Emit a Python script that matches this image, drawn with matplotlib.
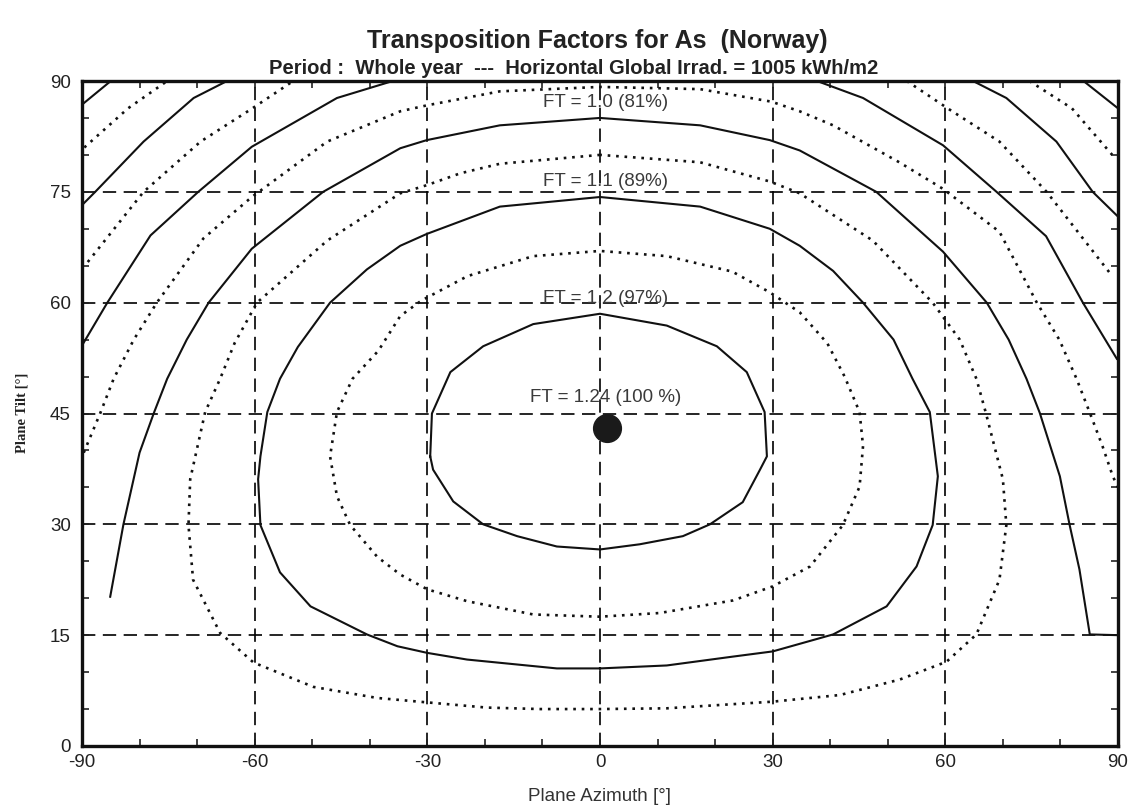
import matplotlib
matplotlib.use("Agg")
import matplotlib.pyplot as plt
from matplotlib import font_manager as fm

# --- contour lines (plane azimuth [deg], plane tilt [deg]) ---
# solid = FT 1.2, 1.1, 1.0, 0.9, 0.8, 0.7 ; dotted = the half steps in between
AZ_120 = [-29.5, -29.2, -26, -20.3, -11.6, 0, 11.6, 20.3, 25.5, 28.6, 29, 27.8, 24.8,
          19.1, 14.4, 6.9, 0, -7.5, -14.4, -20.3, -25.5, -29, -29.5]
TILT_120 = [39.2, 45, 50.6, 54.1, 57.1, 58.5, 56.9, 54.1, 50.6, 45.2, 39.2, 37.4, 33,
            30, 28.4, 27.3, 26.6, 27, 28.4, 30, 33.1, 37.4, 39.2]

AZ_115 = [0, -11.6, -23.1, -30, -34.7, -38.7, -43.4, -45.7, -46.9, -45.7, -43, -38.5,
          -34.7, -31, -23, -11.6, 0, 11.6, 23, 29.5, 34.7, 39.5, 42.5, 45.1, 45.7, 45.1,
          42.2, 36.5, 30, 23.1, 10.4, 0]
TILT_115 = [17.5, 17.8, 19.6, 21.2, 23.2, 25.6, 29.9, 33.8, 39.2, 45.2, 49.7, 53.5,
            58.2, 60.3, 63.6, 66.3, 67, 66.3, 64.2, 61.4, 58.7, 54.5, 50, 45.2, 40.6, 35.1,
            29.9, 24.3, 21.6, 19.7, 18, 17.5]

AZ_110 = [0, -7.5, -23.1, -30, -35.2, -40.5, -50.3, -55.6, -59, -59.4, -59, -57.8, -55.6,
          -52.5, -46.9, -40.5, -34.7, -30.1, -17.4, 0, 17.4, 29.5, 34.7, 40.5, 45.7, 51,
          54.3, 57.3, 58.7, 57.8, 55, 49.8, 40.5, 30, 23.1, 11.6, 0]
TILT_110 = [10.5, 10.5, 11.7, 12.6, 13.5, 15.1, 18.9, 23.5, 29.9, 36.1, 39.2, 45.2, 49.7,
            54, 60, 64.5, 67.7, 69.3, 73, 74.3, 73, 70, 67.7, 64.3, 60, 55,
            49.7, 45.2, 36.5, 29.9, 24.3, 18.9, 15.1, 12.8, 12.1, 10.9, 10.5]

AZ_105 = [0, -17.4, -24.3, -30.1, -34.7, -47.4, -59.6, -63.5, -66, -68.6, -71.2, -71.5,
          -70.7, -66, -60.2, -49.8, -38.7, -30, -19.7, -10.4, 0, 11.6, 30, 41.7, 52.1,
          60.2, 65.4, 69.4, 70.6, 70, 67, 65.4, 62.5, 57.8, 47.4, 34.7, 29.5, 17.4, 0]
TILT_105 = [80, 78.8, 77.5, 75.9, 74.8, 68.4, 60, 54.5, 49.7, 45.2, 36.1, 29.9,
            22.5, 15.3, 11.3, 8, 6.5, 5.9, 5.2, 5, 5, 5.1, 6, 6.9, 9,
            11.4, 15.1, 22.5, 29.9, 36.1, 45.2, 49.7, 55, 60, 68.4, 74.8, 76.4, 79, 80]

AZ_100 = [-85.1, -82.8, -80, -77.5, -75.2, -71.8, -68, -60.5, -48.1, -34.7, -30.1, -17.4,
          0, 17.4, 29.5, 34.7, 48, 59.6, 67.2, 71, 74.1, 76.4, 79.9, 81.6, 83.3, 85.1, 90]
TILT_100 = [20.2, 30, 39.7, 45.1, 49.7, 55, 60, 67.3, 75, 80.9, 82, 84,
            85, 84, 82, 80.6, 75, 66.9, 60, 55, 49.7, 45.1, 36.5, 29.9, 23.9, 15.1, 15]

AZ_095 = [-89.7, -86.8, -84.5, -81, -77, -68.9, -60.5, -47.4, -34.7, -30.1, -17.4, 0,
          17.4, 29.8, 34.7, 40.5, 52, 59.6, 69.4, 75.9, 79.8, 82.8, 85.1, 87.3, 89.1, 90]
TILT_095 = [39.7, 45.1, 49.7, 55, 60, 68.7, 74.3, 81.8, 85.9, 86.7, 88.6, 89.2,
            88.9, 87.2, 85.9, 84, 79, 75.4, 69.6, 60, 55, 49.7, 45.1, 40.6, 36.5, 35]

AZ_090_L = [-90, -85.6, -78.1, -69.8, -60.5, -45.7, -36]
TILT_090_L = [54.2, 60, 69.1, 75, 81.1, 87.7, 90]
AZ_090_R = [37.7, 45.7, 59.6, 68.9, 77.5, 83.9, 89.8]
TILT_090_R = [90, 87.7, 81.3, 75, 69, 60, 52.4]

AZ_085_L = [-89, -79.3, -69.4, -60.4, -53.3]
TILT_085_L = [65.5, 75, 81.8, 86.3, 90]
AZ_085_R = [53.3, 60.4, 69.4, 77.6, 89]
TILT_085_R = [90, 86.3, 81.8, 75, 63.6]

AZ_080_L = [-90, -87.7, -79.3, -70.6, -64.8]
TILT_080_L = [73.2, 75, 81.8, 87.7, 90]
AZ_080_R = [64.8, 70.6, 79.3, 85.6, 89.8]
TILT_080_R = [90, 87.7, 81.8, 75, 71.8]

AZ_075_L = [-89.6, -82, -75.2]
TILT_075_L = [81, 86.3, 90]
AZ_075_R = [74.6, 82, 89]
TILT_075_R = [90, 86.3, 80]

AZ_070_L = [-90, -85]
TILT_070_L = [86.8, 90]
AZ_070_R = [84, 90]
TILT_070_R = [90, 86.3]

SOLID_LINES = [(AZ_120, TILT_120), (AZ_110, TILT_110), (AZ_100, TILT_100),
               (AZ_090_L, TILT_090_L), (AZ_090_R, TILT_090_R),
               (AZ_080_L, TILT_080_L), (AZ_080_R, TILT_080_R),
               (AZ_070_L, TILT_070_L), (AZ_070_R, TILT_070_R)]
DOTTED_LINES = [(AZ_115, TILT_115), (AZ_105, TILT_105), (AZ_095, TILT_095),
                (AZ_085_L, TILT_085_L), (AZ_085_R, TILT_085_R),
                (AZ_075_L, TILT_075_L), (AZ_075_R, TILT_075_R)]

LEVEL_LABELS = ["FT = 1.0 (81%)", "FT = 1.1 (89%)", "FT = 1.2 (97%)", "FT = 1.24 (100 %)"]
LABEL_AZ = [0.9, 0.9, 0.9, 1.0]
LABEL_TILT = [87.1, 76.4, 60.5, 47.2]

OPT_AZ = 1.2
OPT_TILT = 43.1

X_TICKS = [-90, -60, -30, 0, 30, 60, 90]
Y_TICKS = [0, 15, 30, 45, 60, 75, 90]


def pick_font(names):
    for n in names:
        try:
            fm.findfont(fm.FontProperties(family=n), fallback_to_default=False)
            return n
        except Exception:
            continue
    return "DejaVu Sans"


NARROW = pick_font(["Liberation Sans Narrow", "Liberation Sans"])
SANS = pick_font(["Liberation Sans", "DejaVu Sans"])
SERIF = pick_font(["Liberation Serif", "DejaVu Serif"])

plt.rcParams["axes.unicode_minus"] = False

fig = plt.figure(figsize=(11.38, 8.06), dpi=100)
ax = fig.add_axes([82 / 1138, 60 / 806, 1036 / 1138, 665 / 806])

for xv in X_TICKS[1:-1]:
    ax.axvline(xv, color="black", lw=1.2, ls=(0, (8, 4.5)), zorder=1)
for yv in Y_TICKS[1:-1]:
    ax.axhline(yv, color="black", lw=1.2, ls=(0, (8, 4.5)), zorder=1)

for az, tilt in SOLID_LINES:
    ax.plot(az, tilt, color="#111111", lw=1.5, solid_joinstyle="round", zorder=2)
for az, tilt in DOTTED_LINES:
    ax.plot(az, tilt, color="#111111", lw=1.9, ls=(0, (1, 2.2)), zorder=2)

for lab, xa, ya in zip(LEVEL_LABELS, LABEL_AZ, LABEL_TILT):
    ax.text(xa, ya, lab, ha="center", va="center", fontsize=13.5, color="#3a3a3a",
            family=SANS, zorder=3)

ax.plot([OPT_AZ], [OPT_TILT], "o", color="#1a1a1a", markersize=20, zorder=4)

ax.set_xlim(-90, 90)
ax.set_ylim(0, 90)
ax.set_xticks(X_TICKS)
ax.set_yticks(Y_TICKS)
ax.set_xticks(range(-80, 90, 10), minor=True)
ax.set_yticks(range(5, 90, 5), minor=True)
ax.tick_params(which="both", direction="in", top=True, right=True, length=5, width=1.2,
               labelsize=13.5, colors="#222222")
ax.tick_params(axis="x", pad=6)
ax.tick_params(axis="y", pad=8)
for lbl in ax.get_xticklabels() + ax.get_yticklabels():
    lbl.set_family(SANS)
for sp in ax.spines.values():
    sp.set_linewidth(2.4)
    sp.set_color("#111111")

ax.set_xlabel("Plane Azimuth [°]", fontsize=13.5, family=SANS, color="#333333", labelpad=12)
fig.text(22 / 1138, 1 - 413 / 806, "Plane Tilt [°]", rotation=90, ha="center", va="center",
         fontsize=10.5, family=SERIF, fontweight="bold", color="#222222")

fig.text(597 / 1138, 1 - 41 / 806, "Transposition Factors for As  (Norway)", ha="center",
         va="center", fontsize=18, fontweight="bold", family=NARROW, color="#222222")
fig.text(574 / 1138, 1 - 68 / 806,
         "Period :  Whole year  ---  Horizontal Global Irrad. = 1005 kWh/m2",
         ha="center", va="center", fontsize=14.5, fontweight="bold", family=NARROW,
         color="#222222")

fig.savefig("out.png", dpi=100)
